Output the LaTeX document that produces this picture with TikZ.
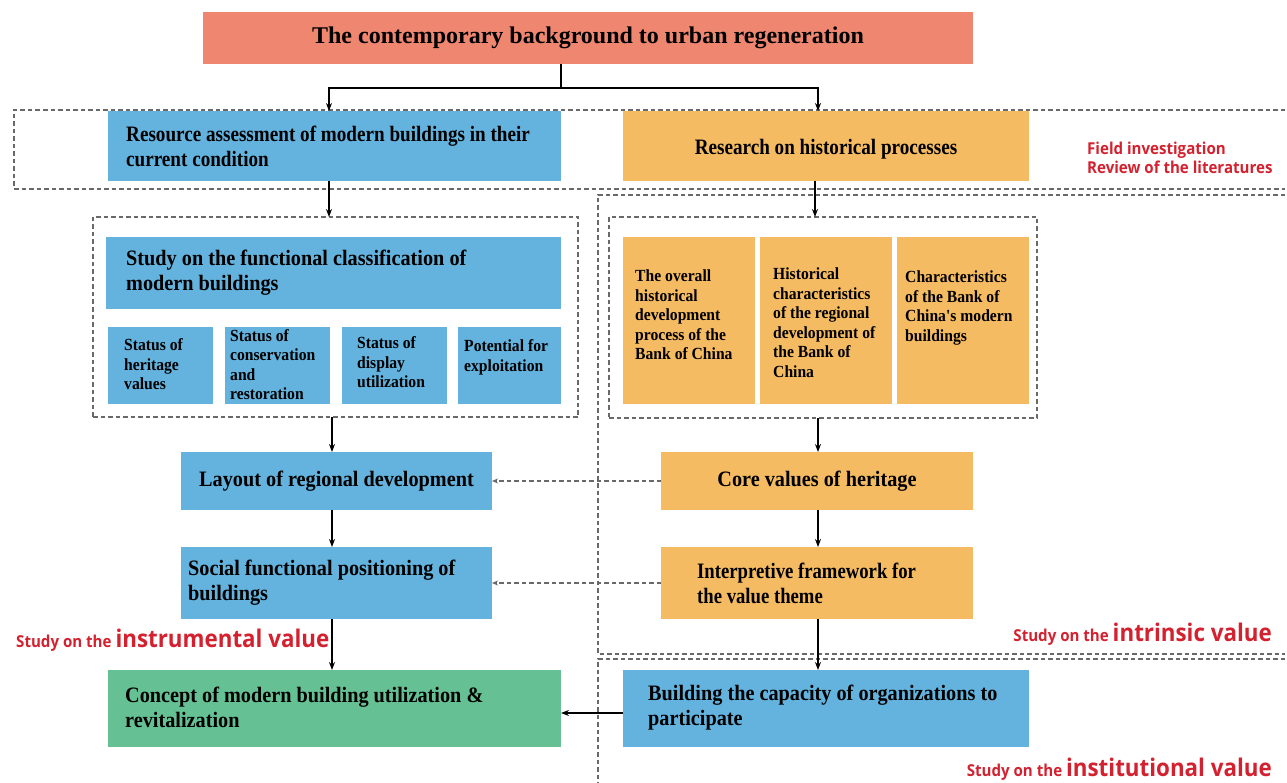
\documentclass[tikz,border=0pt]{standalone}
\usepackage{fontspec}
\setmainfont{Liberation Serif}
\newfontfamily\boxfontA{Liberation Serif}[FakeStretch=0.92]
\newfontfamily\boxfontB{Liberation Serif}[FakeStretch=0.87]
\newfontfamily\boxfontC{Liberation Serif}[FakeStretch=0.85]
\newfontfamily\redfont{Open Sans}[FakeStretch=0.92]
\usetikzlibrary{arrows.meta}
\definecolor{cblue}{RGB}{99,179,222}
\definecolor{corange}{RGB}{245,187,98}
\definecolor{csalmon}{RGB}{238,134,112}
\definecolor{cgreen}{RGB}{101,193,148}
\definecolor{cred}{RGB}{212,33,47}
\definecolor{cdash}{RGB}{105,105,105}
\tikzset{
  fillbox/.style={rectangle, inner sep=0pt, outer sep=0pt, anchor=north west, draw=none},
  bluebox/.style={fillbox, fill=cblue},
  orbox/.style={fillbox, fill=corange},
  txtA/.style={font=\boxfontA\bfseries\fontsize{22}{25}\selectfont, inner sep=0pt, align=left},
  txtB/.style={font=\boxfontB\bfseries\fontsize{22}{25}\selectfont, inner sep=0pt, align=left},
  txtC/.style={font=\boxfontC\bfseries\fontsize{22}{25}\selectfont, inner sep=0pt, align=left},
  txtS/.style={font=\boxfontA\bfseries\fontsize{17}{19.5}\selectfont, inner sep=0pt, align=left},
  dsh/.style={draw=cdash, line width=1.1pt, dash pattern=on 4.5pt off 3pt},
  grp/.style={fillbox, dsh},
  arr/.style={draw=black, line width=1.2pt, -{Stealth[length=8pt,width=6pt]}},
  darr/.style={dsh, -{Stealth[length=6pt,width=5pt]}},
  redlbl/.style={text=cred, font=\redfont\bfseries, inner sep=0pt},
}
\begin{document}
\begin{tikzpicture}[x=1pt,y=-1pt]
\useasboundingbox (0,0) rectangle (1287,783);
% dashed regions
\draw[dsh] (1285,110) -- (14,110) -- (14,189) -- (1285,189);
\draw[dsh] (1285,195) -- (598,195) -- (598,654) -- (1285,654);
\draw[dsh] (1285,659) -- (598,659) -- (598,783);
\node[grp, minimum width=485pt, minimum height=200pt] (gl) at (93,217) {};
\node[grp, minimum width=428pt, minimum height=201pt] (gr) at (609,217) {};
% column coordinates
\coordinate (cA) at (329,0);
\coordinate (cB) at (818,0);
\coordinate (cC) at (815,0);
\coordinate (cD) at (332,0);
\coordinate (rB) at (0,713);
% title
\node[fillbox, fill=csalmon, minimum width=770pt, minimum height=52pt,
      font=\bfseries\fontsize{24}{28}\selectfont] (title) at (203,12) {The contemporary background to urban regeneration};
% row 1
\node[bluebox, minimum width=453pt, minimum height=70pt] (res) at (108,111) {};
\node[txtB, anchor=west] (rest) at ([xshift=18pt]res.west) {Resource assessment of modern buildings in their\\current condition};
\node[orbox, minimum width=406pt, minimum height=70pt] (his) at (623,111) {};
\node[txtB] (hist) at ([yshift=-3pt]his.center) {Research on historical processes};
\node[redlbl, anchor=west, align=left, font=\redfont\bfseries\fontsize{16.4}{19}\selectfont] (field) at (1087,158) {Field investigation\\Review of the literatures};
% left group
\node[bluebox, minimum width=455pt, minimum height=72pt] (func) at (106,237) {};
\node[txtA, anchor=west] (funct) at ([xshift=20pt]func.west) {Study on the functional classification of\\modern buildings};
\node[bluebox, minimum width=105pt, minimum height=77pt] (s1) at (108,327) {};
\node[bluebox, minimum width=105pt, minimum height=77pt] (s2) at (225,327) {};
\node[bluebox, minimum width=105pt, minimum height=77pt] (s3) at (342,327) {};
\node[bluebox, minimum width=103pt, minimum height=77pt] (s4) at (458,327) {};
\node[txtS, anchor=west] (s1t) at ([xshift=16pt,yshift=1pt]s1.west) {Status of\\heritage\\values};
\node[txtS, anchor=west] (s2t) at ([xshift=5pt,yshift=1pt]s2.west) {Status of\\conservation\\and\\restoration};
\node[txtS, anchor=west] (s3t) at ([xshift=15pt,yshift=3pt]s3.west) {Status of\\display\\utilization};
\node[txtS, anchor=west] (s4t) at ([xshift=6pt,yshift=8pt]s4.west) {Potential for\\exploitation};
% right group
\node[orbox, minimum width=132pt, minimum height=167pt] (o1) at (623,237) {};
\node[orbox, minimum width=132pt, minimum height=167pt] (o2) at (760,237) {};
\node[orbox, minimum width=132pt, minimum height=167pt] (o3) at (897,237) {};
\node[txtS, anchor=north west] (o1t) at ([xshift=12pt,yshift=-33pt]o1.north west) {The overall\\historical\\development\\process of the\\Bank of China};
\node[txtS, anchor=north west] (o2t) at ([xshift=13pt,yshift=-31pt]o2.north west) {Historical\\characteristics\\of the regional\\development of\\the Bank of\\China};
\node[txtS, anchor=north west] (o3t) at ([xshift=8pt,yshift=-34pt]o3.north west) {Characteristics\\of the Bank of\\China's modern\\buildings};
% middle rows
\node[bluebox, minimum width=311pt, minimum height=58pt, font=\boxfontA\bfseries\fontsize{22}{25}\selectfont] (lay) at (181,452) {Layout of regional development};
\node[bluebox, minimum width=311pt, minimum height=72pt] (soc) at (181,547) {};
\node[txtA, anchor=west] (soct) at ([xshift=7pt]soc.west) {Social functional positioning of\\buildings};
\node[orbox, minimum width=312pt, minimum height=58pt, font=\boxfontA\bfseries\fontsize{22}{25}\selectfont] (core) at (661,452) {Core values of heritage};
\node[orbox, minimum width=312pt, minimum height=72pt] (intp) at (661,547) {};
\node[txtC, anchor=west] (intpt) at ([xshift=36pt]intp.west) {Interpretive framework for\\the value theme};
% bottom row
\node[fillbox, fill=cgreen, minimum width=453pt, minimum height=77pt] (grn) at (108,670) {};
\node[txtA, anchor=west] (grnt) at ([xshift=17pt,yshift=1pt]grn.west) {Concept of modern building utilization \&\\revitalization};
\node[bluebox, minimum width=406pt, minimum height=77pt] (bld) at (623,670) {};
\node[txtA, anchor=west] (bldt) at ([xshift=25pt,yshift=1pt]bld.west) {Building the capacity of organizations to\\participate};
% red labels
\node[redlbl, anchor=base west] (instr) at (16,647) {{\fontsize{16.4}{19}\selectfont Study on the }{\fontsize{24.3}{28}\selectfont instrumental value}};
\node[redlbl, anchor=base east] (intr) at (1272,641) {{\fontsize{16.4}{19}\selectfont Study on the }{\fontsize{24.3}{28}\selectfont intrinsic value}};
\node[redlbl, anchor=base east] (inst) at (1272,776) {{\fontsize{16.4}{19}\selectfont Study on the }{\fontsize{24.3}{28}\selectfont institutional value}};
% connectors
\coordinate (tj) at ([xshift=-27pt, yshift=-24pt]title.south);
\draw[line width=1.2pt] ([xshift=-27pt]title.south) -- (tj);
\draw[arr] (tj) -| (res.north -| cA);
\draw[arr] (tj) -| (his.north -| cB);
\draw[arr] (res.south -| cA) -- (gl.north -| cA);
\draw[arr] (his.south -| cC) -- (gr.north -| cC);
\draw[arr] (gl.south -| cD) -- (lay.north -| cD);
\draw[arr] (lay.south -| cD) -- (soc.north -| cD);
\draw[arr] (soc.south -| cD) -- (grn.north -| cD);
\draw[arr] (gr.south -| cB) -- (core.north -| cB);
\draw[arr] (core.south -| cB) -- (intp.north -| cB);
\draw[arr] (intp.south -| cB) -- (bld.north -| cB);
\draw[arr] (bld.west |- rB) -- (grn.east |- rB);
\draw[darr] (core.west) -- (lay.east);
\draw[darr] (intp.west) -- (soc.east);
\end{tikzpicture}
\end{document}
